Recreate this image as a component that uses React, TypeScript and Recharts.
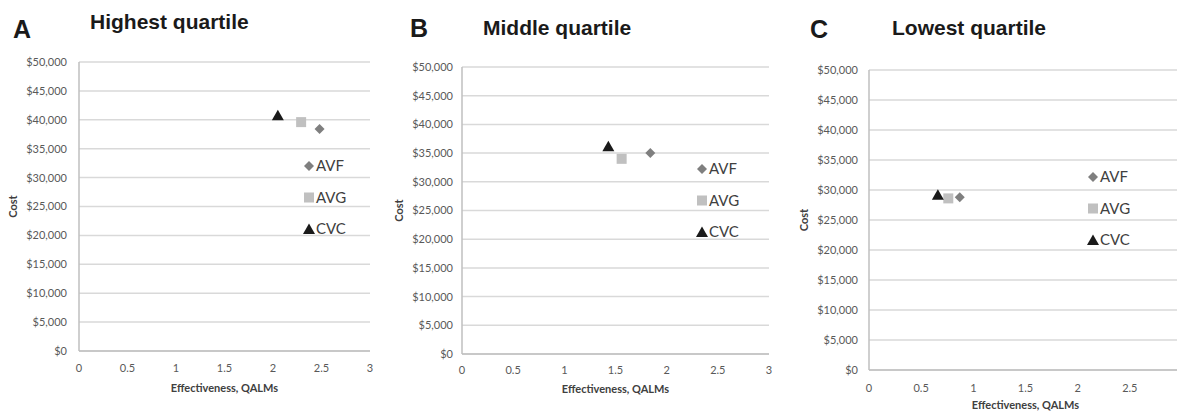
import React from 'react';
import { ScatterChart, Scatter, XAxis, YAxis, CartesianGrid, Legend } from 'recharts';

// QALMs (x) and cost (y) per strategy, one set per quartile
const highestAVF = [{ x: 2.48, y: 38400 }];
const highestAVG = [{ x: 2.29, y: 39600 }];
const highestCVC = [{ x: 2.05, y: 40800 }];

const middleAVF = [{ x: 1.84, y: 35000 }];
const middleAVG = [{ x: 1.56, y: 34000 }];
const middleCVC = [{ x: 1.43, y: 36200 }];

const lowestAVF = [{ x: 0.87, y: 28800 }];
const lowestAVG = [{ x: 0.76, y: 28600 }];
const lowestCVC = [{ x: 0.66, y: 29200 }];

const seriesNames = ['AVF', 'AVG', 'CVC'];
const costTicks = [0, 5000, 10000, 15000, 20000, 25000, 30000, 35000, 40000, 45000, 50000];
const qalmTicks = [0, 0.5, 1, 1.5, 2, 2.5, 3];
// panel C is cropped at the right, its "3" label falls outside the figure
const qalmTicksCropped = [0, 0.5, 1, 1.5, 2, 2.5];

const COLORS: Record<string, string> = { AVF: '#7f7f7f', AVG: '#c0c0c0', CVC: '#1a1a1a' };
const FONT = 'Lato, "Open Sans", sans-serif';

const Marker = ({ type, cx, cy }: { type: string; cx: number; cy: number }) => {
  if (type === 'AVF') {
    const r = 5;
    return <polygon points={`${cx},${cy - r} ${cx + r},${cy} ${cx},${cy + r} ${cx - r},${cy}`} fill={COLORS.AVF} />;
  }
  if (type === 'AVG') {
    return <rect x={cx - 5} y={cy - 5} width={10} height={10} fill={COLORS.AVG} />;
  }
  return <polygon points={`${cx},${cy - 5.5} ${cx + 6},${cy + 5} ${cx - 6},${cy + 5}`} fill={COLORS.CVC} />;
};

const shapeFor = (type: string) => (props: any) => <Marker type={type} cx={props.cx} cy={props.cy} />;

const LegendBox = () => (
  <svg width={60} height={86}>
    {seriesNames.map((name, i) => {
      const y = 10 + i * 31.5;
      return (
        <g key={name}>
          <Marker type={name} cx={8} cy={y} />
          <text x={15} y={y} dy="0.36em" fontSize={15} fill="#404040" fontFamily={FONT}>
            {name}
          </text>
        </g>
      );
    })}
  </svg>
);

const money = (v: number) => `$${v.toLocaleString('en-US')}`;

interface PanelProps {
  left: number;
  width: number;
  yWidth: number;
  margin: { top: number; right: number; bottom: number; left: number };
  xHeight: number;
  xTicks: number[];
  xTickGap: number;
  yTickGap: number;
  costOffset: number;
  legendX: number;
  legendY: number;
  avf: { x: number; y: number }[];
  avg: { x: number; y: number }[];
  cvc: { x: number; y: number }[];
}

const Panel = (p: PanelProps) => (
  <div style={{ position: 'absolute', left: p.left, top: 0 }}>
    <ScatterChart width={p.width} height={413} margin={p.margin} style={{ fontFamily: FONT }}>
      <CartesianGrid horizontal vertical={false} stroke="#d9d9d9" strokeWidth={1.5} />
      <XAxis
        type="number"
        dataKey="x"
        domain={[0, 3]}
        ticks={p.xTicks}
        height={p.xHeight}
        tickSize={0}
        tickMargin={p.xTickGap}
        axisLine={{ stroke: '#bfbfbf', strokeWidth: 1.5 }}
        tickLine={false}
        tick={{ fontSize: 11, fill: '#595959' }}
        label={{ value: 'Effectiveness, QALMs', position: 'insideBottom', offset: 0, style: { fontSize: 11, fontWeight: 700, fill: '#404040' } }}
      />
      <YAxis
        type="number"
        dataKey="y"
        domain={[0, 50000]}
        ticks={costTicks}
        width={p.yWidth}
        tickSize={0}
        tickMargin={p.yTickGap}
        tickFormatter={money}
        axisLine={{ stroke: '#bfbfbf', strokeWidth: 1.5 }}
        tickLine={false}
        tick={{ fontSize: 11, fill: '#595959' }}
        label={{ value: 'Cost', angle: -90, position: 'insideLeft', offset: p.costOffset, style: { fontSize: 11, fontWeight: 700, fill: '#404040', textAnchor: 'middle' } }}
      />
      <Legend
        layout="vertical"
        align="center"
        verticalAlign="middle"
        content={() => <LegendBox />}
        wrapperStyle={{ left: p.legendX - 8, top: p.legendY - 10, width: 60, height: 86 }}
      />
      <Scatter name="AVF" data={p.avf} shape={shapeFor('AVF')} isAnimationActive={false} />
      <Scatter name="AVG" data={p.avg} shape={shapeFor('AVG')} isAnimationActive={false} />
      <Scatter name="CVC" data={p.cvc} shape={shapeFor('CVC')} isAnimationActive={false} />
    </ScatterChart>
  </div>
);

export default function App() {
  return (
    <div style={{ position: 'absolute', left: 0, top: 0, width: 1177, height: 413, overflow: 'hidden', background: '#fff' }}>
      <Panel
        left={0} width={390} yWidth={79} margin={{ top: 62, right: 20, bottom: 21, left: 0 }} xHeight={41}
        xTicks={qalmTicks} xTickGap={13} yTickGap={12} costOffset={13} legendX={309} legendY={166}
        avf={highestAVF} avg={highestAVG} cvc={highestCVC}
      />
      <Panel
        left={390} width={390} yWidth={72} margin={{ top: 67, right: 11, bottom: 20, left: 0 }} xHeight={39}
        xTicks={qalmTicks} xTickGap={12} yTickGap={9} costOffset={9} legendX={312} legendY={169}
        avf={middleAVF} avg={middleAVG} cvc={middleCVC}
      />
      <Panel
        left={780} width={410} yWidth={89} margin={{ top: 70, right: 8, bottom: 4, left: 0 }} xHeight={39}
        xTicks={qalmTicksCropped} xTickGap={14} yTickGap={11} costOffset={24} legendX={313} legendY={177}
        avf={lowestAVF} avg={lowestAVG} cvc={lowestCVC}
      />
      <svg width={1177} height={413} style={{ position: 'absolute', left: 0, top: 0, pointerEvents: 'none' }}>
        <g fontFamily='"Liberation Sans", Arial, sans-serif' fontWeight={700} fill="#1a1a1a">
          <text x={13} y={38} fontSize={25}>A</text>
          <text x={90} y={29} fontSize={21}>Highest quartile</text>
          <text x={410} y={37} fontSize={25}>B</text>
          <text x={483} y={35} fontSize={21}>Middle quartile</text>
          <text x={810} y={38} fontSize={25}>C</text>
          <text x={892} y={35} fontSize={21}>Lowest quartile</text>
        </g>
      </svg>
    </div>
  );
}
